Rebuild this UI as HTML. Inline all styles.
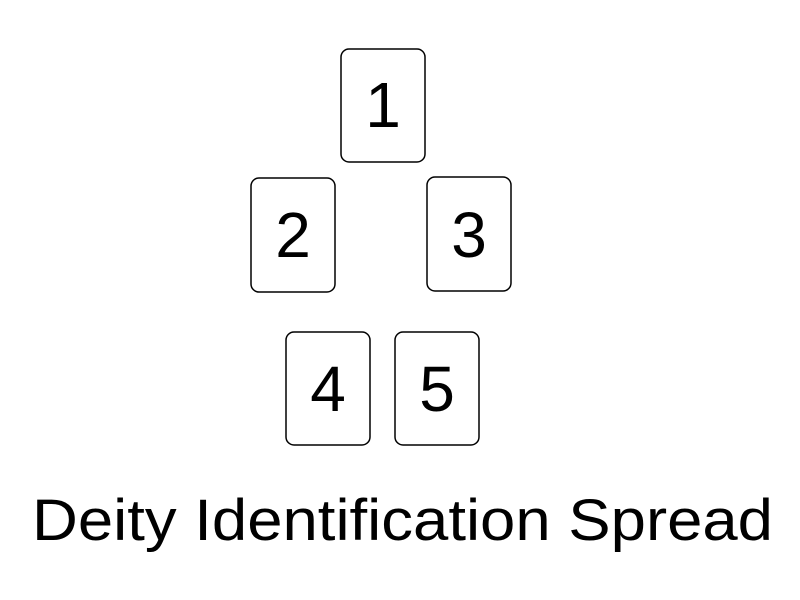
<!DOCTYPE html>
<html><head><style>body{margin:0;background:#fff}svg{display:block}</style></head>
<body>
<svg width="800" height="600" xmlns="http://www.w3.org/2000/svg" font-family="Liberation Sans, Arial, sans-serif">
<rect width="800" height="600" fill="#fff"/>
<g fill="#fff" stroke="#000" stroke-width="1.5">
<rect x="341" y="49" width="84" height="113" rx="8"/>
<rect x="251" y="178" width="84" height="114" rx="8"/>
<rect x="427" y="177" width="84" height="114" rx="8"/>
<rect x="286" y="332" width="84" height="113" rx="8"/>
<rect x="395" y="332" width="84" height="113" rx="8"/>
</g>
<g font-size="64" text-anchor="middle" fill="#000">
<text x="383" y="127">1</text>
<text x="293" y="257">2</text>
<text x="469" y="257">3</text>
<text x="328" y="411">4</text>
<text x="437" y="411">5</text>
</g>
<text x="32" y="540" font-size="58" textLength="741" lengthAdjust="spacingAndGlyphs" fill="#000">Deity Identification Spread</text>
</svg>
</body></html>
